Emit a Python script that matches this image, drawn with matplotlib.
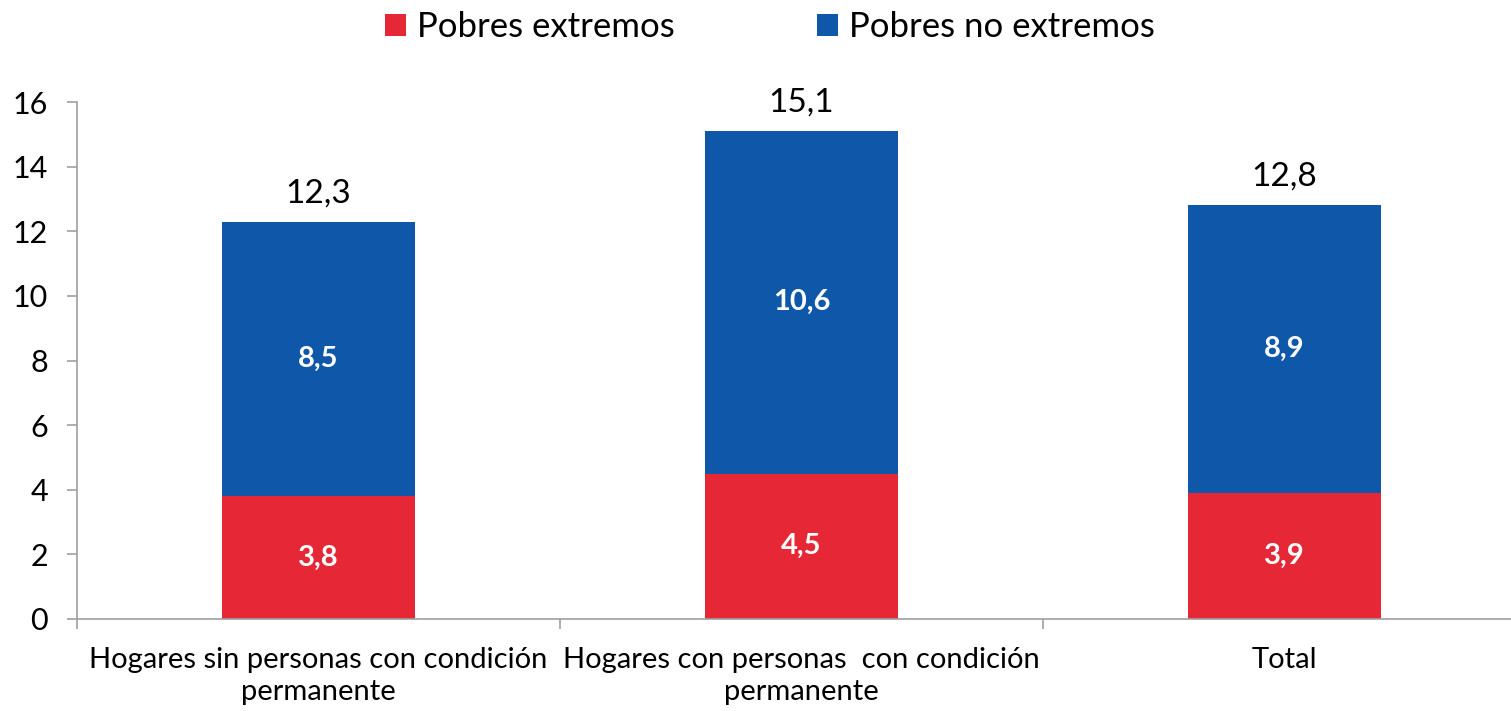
import matplotlib
matplotlib.use('Agg')
import matplotlib.pyplot as plt
import numpy as np

# data
categories = ['Hogares sin personas con condición\npermanente',
              'Hogares con personas  con condición\npermanente',
              'Total']
pobres_extremos = [3.8, 4.5, 3.9]
pobres_no_extremos = [8.5, 10.6, 8.9]
totales = [12.3, 15.1, 12.8]

RED = '#E52736'
BLUE = '#0F57A8'
AXIS = '#A0A0A0'

plt.rcParams['font.family'] = ['Lato', 'DejaVu Sans']

fig = plt.figure(figsize=(15.11, 7.11), dpi=100)
ax = fig.add_axes([77 / 1511, 92 / 711, 1449 / 1511, 517 / 711])

x = np.arange(len(categories))
w = 0.4
b1 = ax.bar(x, pobres_extremos, w, color=RED, label='Pobres extremos')
b2 = ax.bar(x, pobres_no_extremos, w, bottom=pobres_extremos, color=BLUE,
            label='Pobres no extremos')

def fmt(v):
    return f'{v:.1f}'.replace('.', ',')

# value labels: white bold inside the segments, totals on top
for i in range(len(x)):
    ax.text(x[i], pobres_extremos[i] / 2, fmt(pobres_extremos[i]), ha='center', va='center',
            color='white', fontsize=21, fontweight='bold')
    ax.text(x[i], pobres_extremos[i] + pobres_no_extremos[i] / 2, fmt(pobres_no_extremos[i]),
            ha='center', va='center', color='white', fontsize=21, fontweight='bold')
    ax.annotate(fmt(totales[i]), (x[i], totales[i]), xytext=(0, 14), textcoords='offset points',
                ha='center', va='baseline', fontsize=24, color='black')

ax.set_xlim(-0.5, 2.5)
ax.set_ylim(0, 16)
ax.set_yticks(range(0, 17, 2))
ax.set_xticks(x)
ax.set_xticklabels(categories, fontsize=21, linespacing=1.3)
ax.set_xticks([-0.5, 0.5, 1.5, 2.5], minor=True)
ax.tick_params(axis='x', which='major', length=0, pad=20)
ax.tick_params(axis='x', which='minor', length=7, color=AXIS, width=1.2)
ax.tick_params(axis='y', length=7, color=AXIS, width=1.2, labelsize=22, pad=14)

for s in ['top', 'right']:
    ax.spines[s].set_visible(False)
for s in ['left', 'bottom']:
    ax.spines[s].set_color(AXIS)
    ax.spines[s].set_linewidth(1.2)

fig.legend(handles=[b1, b2], loc='center', bbox_to_anchor=(770 / 1511, 1 - 27 / 711),
           ncol=2, frameon=False, fontsize=25, handlelength=0.6, handleheight=0.6,
           handletextpad=0.32, columnspacing=4.1)

fig.savefig('out.png', dpi=100)
